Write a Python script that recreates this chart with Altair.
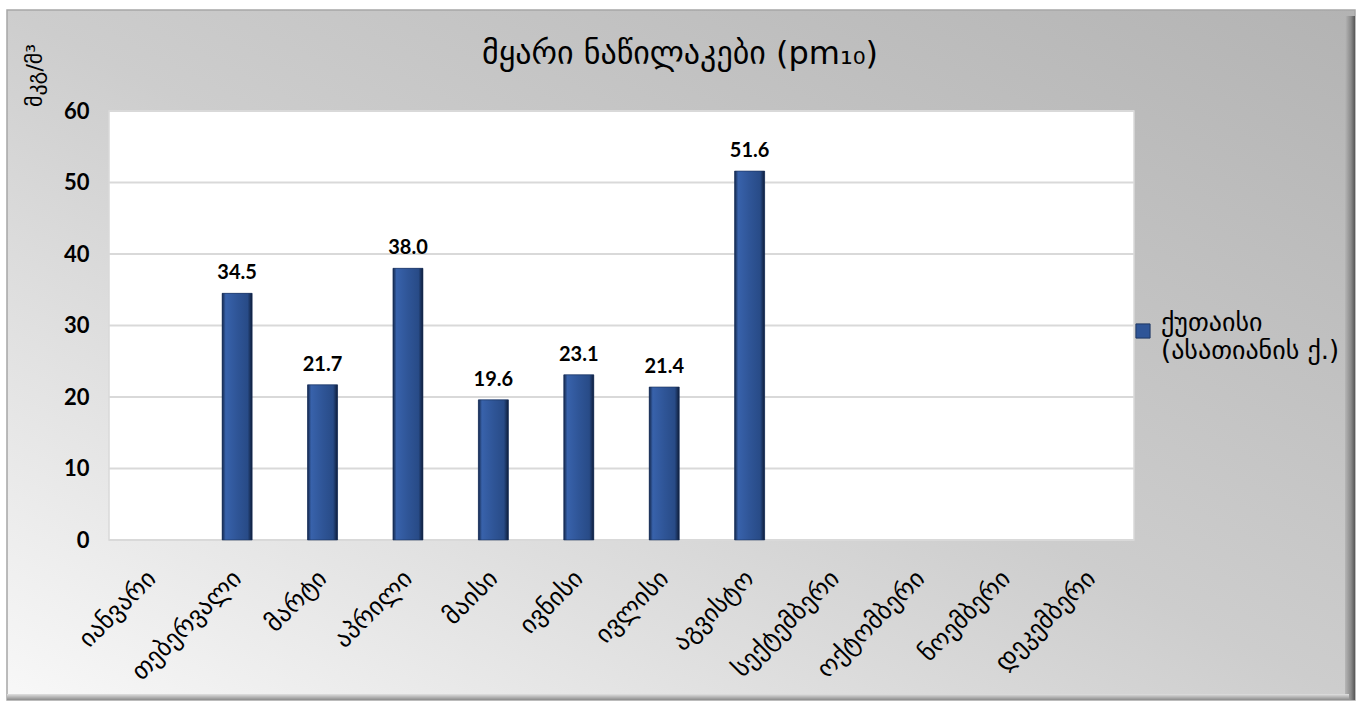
import altair as alt
import pandas as pd

# Monthly PM10 concentrations, Kutaisi (Asatiani st.)
months = ["იანვარი", "თებერვალი", "მარტი", "აპრილი", "მაისი", "ივნისი",
          "ივლისი", "აგვისტო", "სექტემბერი", "ოქტომბერი", "ნოემბერი", "დეკემბერი"]
values = [None, 34.5, 21.7, 38.0, 19.6, 23.1, 21.4, 51.6, None, None, None, None]
series_name = "ქუთაისი\n(ასათიანის ქ.)"
y_ticks = [0, 10, 20, 30, 40, 50, 60]

title_text = "მყარი ნაწილაკები (pm₁₀)"
y_title = "მკგ/მ³"

GEO_FONT = "DejaVu Sans"
NUM_FONT = "Lato"

# plot-area geometry
W, H = 1025, 429
PAD_L, PAD_T = 109, 111

df = pd.DataFrame({"month": months, "value": values, "series": series_name})
bars_df = df.dropna()
grid_df = pd.DataFrame({"v": y_ticks})
one = alt.Data(values=[{"k": 1}])

x_enc = alt.X("month:N", sort=months, scale=alt.Scale(domain=months),
              axis=alt.Axis(title=None, labelAngle=-45, labelAlign="right",
                            labelBaseline="middle", labelPadding=34,
                            labelFont=GEO_FONT, labelFontSize=25,
                            labelColor="#000000", domain=False, ticks=False,
                            grid=False, zindex=1, labelLimit=300))
y_scale = alt.Scale(domain=[0, 60], nice=False)
y_enc = alt.Y("value:Q", scale=y_scale,
              axis=alt.Axis(title=y_title, values=y_ticks, labelFont=NUM_FONT,
                            labelFontSize=22, labelFontWeight="bold",
                            labelColor="#000000", labelPadding=20,
                            domain=False, ticks=False, grid=False, zindex=1,
                            titleFont=GEO_FONT, titleFontSize=22,
                            titleFontWeight="normal", titleColor="#000000",
                            titleAngle=270, titleX=-75, titleY=-36,
                            titleAlign="center", titleBaseline="middle"))


def grad(stops, x1=0, y1=0, x2=1, y2=0):
    return alt.LinearGradient(
        gradient="linear",
        stops=[alt.GradientStop(offset=o, color=c) for o, c in stops],
        x1=x1, y1=y1, x2=x2, y2=y2)


# outer chart frame with a soft diagonal gradient
frame = alt.Chart(one).mark_rect(
    color=grad([(0, "#f8f8f8"), (0.5, "#cdcdcd"), (1, "#b3b3b3")], 0, 1, 1, 0),
    stroke="#a6a6a6", strokeWidth=1.5
).encode(x=alt.value(-102), x2=alt.value(1246), y=alt.value(-101), y2=alt.value(589))

frame_right = alt.Chart(one).mark_rect(
    color=grad([(0, "#b6b6b6"), (0.6, "#8a8a8a"), (1, "#555555")])
).encode(x=alt.value(1236), x2=alt.value(1246), y=alt.value(-95), y2=alt.value(589))

frame_bottom = alt.Chart(one).mark_rect(
    color=grad([(0, "#e0e0e0"), (1, "#8c8c8c")], 0, 0, 0, 1)
).encode(x=alt.value(-102), x2=alt.value(1240), y=alt.value(583), y2=alt.value(589))

plot_bg = alt.Chart(one).mark_rect(
    color="#ffffff", stroke="#d9d9d9", strokeWidth=1.5
).encode(x=alt.value(0), x2=alt.value(W), y=alt.value(0), y2=alt.value(H))

title = alt.Chart(one).mark_text(
    text=title_text, font=GEO_FONT, fontSize=32, color="#000000",
    align="center", baseline="alphabetic"
).encode(x=alt.value(571), y=alt.value(-47))

grid = alt.Chart(grid_df).mark_rule(color="#d9d9d9", strokeWidth=2).encode(
    y=alt.Y("v:Q", scale=y_scale), x=alt.value(0), x2=alt.value(W))

legend_bars = alt.Chart(bars_df).mark_bar(size=30).encode(
    x=x_enc, y=y_enc,
    color=alt.Color("series:N", scale=alt.Scale(range=["#2f5597"]),
                    legend=alt.Legend(title=None, orient="none", legendX=1021,
                                      legendY=207, symbolType="square",
                                      symbolSize=200, symbolStrokeColor="#1f3864",
                                      symbolStrokeWidth=1,
                                      labelFont=GEO_FONT, labelFontSize=26,
                                      labelColor="#000000", labelBaseline="alphabetic",
                                      labelExpr="split(datum.label, '\\n')",
                                      labelLimit=300, labelOffset=5, padding=0)))

bars = alt.Chart(bars_df).mark_bar(
    size=30,
    color=grad([(0, "#14274a"), (0.12, "#3862ab"), (0.5, "#2f5597"),
                (0.85, "#284b87"), (1, "#0e1d3a")]),
    stroke="#1a2f57", strokeWidth=0.6
).encode(x=x_enc, y=y_enc)

labels = alt.Chart(bars_df).mark_text(
    font=NUM_FONT, fontSize=20, fontWeight="bold", color="#000000",
    baseline="alphabetic", dy=-14
).encode(x=x_enc, y=y_enc, text=alt.Text("value:Q", format=".1f"))

chart = alt.layer(
    frame, frame_right, frame_bottom, plot_bg, title, grid, legend_bars, bars, labels
).properties(
    width=W, height=H,
    padding={"left": PAD_L, "top": PAD_T, "right": 1361 - PAD_L - W,
             "bottom": 705 - PAD_T - H},
    autosize=alt.AutoSizeParams(type="none"),
    background="#ffffff",
).configure_view(stroke=None)

chart.save("out.html", embed_options={"renderer": "svg", "actions": False})
